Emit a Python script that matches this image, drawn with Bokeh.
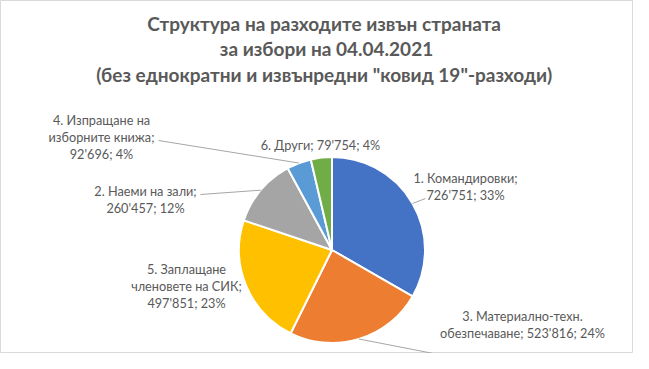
import math
from bokeh.plotting import figure
from bokeh.models import Range1d, ColumnDataSource
from bokeh.core.properties import value
from bokeh.embed import file_html
from bokeh.resources import INLINE

# ---- data ----
categories = ["1. Командировки", "3. Материално-техн. обезпечаване",
              "5. Заплащане членовете на СИК", "2. Наеми на зали",
              "4. Изпращане на изборните книжа", "6. Други"]
amounts = [726751, 523816, 497851, 260457, 92696, 79754]
percents = ["33%", "24%", "23%", "12%", "4%", "4%"]
colors = ["#4472C4", "#ED7D31", "#FFC000", "#A5A5A5", "#5B9BD5", "#70AD47"]
title_lines = ["Структура  на разходите извън страната",
               "за избори на 04.04.2021",
               "(без еднократни  и извънредни \"ковид 19\"-разходи)"]

def fmt(v):
    return f"{v:,}".replace(",", "'")

# label line layout (split of each label into lines)
label_lines = [
    [f"{categories[0]};", f"{fmt(amounts[0])}; {percents[0]}"],
    ["3. Материално-техн.", f"обезпечаване; {fmt(amounts[1])}; {percents[1]}"],
    ["5. Заплащане", "членовете на СИК;", f"{fmt(amounts[2])}; {percents[2]}"],
    [f"{categories[3]};", f"{fmt(amounts[3])}; {percents[3]}"],
    ["4. Изпращане на", "изборните книжа;", f"{fmt(amounts[4])}; {percents[4]}"],
    [f"{categories[5]}; {fmt(amounts[5])}; {percents[5]}"],
]
# (center x, first line y) in picture pixels
label_pos = [(465, 177), (522, 315), (186, 268), (145, 190), (101, 119), (320, 144)]
# leader-line anchor next to label (picture px), None = no leader
leader_anchor = [(425, 198), (433, 353), None, (200, 194), (158, 140), None]

W, H = 633, 353
def Y(y):  # picture y -> data y
    return 369 - y

p = figure(width=W, height=H, output_backend="svg", toolbar_location=None,
           x_range=Range1d(0, W), y_range=Range1d(369 - H, 369),
           x_axis_type=None, y_axis_type=None, min_border=0)
p.grid.visible = False
p.outline_line_color = "#D9D9D9"
p.outline_line_width = 1
p.background_fill_color = "white"
p.border_fill_color = "white"

# ---- pie ----
cx, cy, r = 331.5, 249.5, 93
total = sum(amounts)
starts, ends, mids = [], [], []
acc = 0.0
for a in amounts:
    f0 = acc / total
    acc += a
    f1 = acc / total
    starts.append(math.pi / 2 - f1 * 2 * math.pi)
    ends.append(math.pi / 2 - f0 * 2 * math.pi)
    mids.append((f0 + f1) / 2)

src = ColumnDataSource(dict(start=starts, end=ends, color=colors))
p.wedge(x=cx, y=Y(cy), radius=r, start_angle="start", end_angle="end",
        fill_color="color", line_color="white", line_width=2, source=src)

# ---- leader lines ----
for i, anc in enumerate(leader_anchor):
    if anc is None:
        continue
    th = mids[i] * 2 * math.pi
    px = cx + r * math.sin(th)
    py = cy - r * math.cos(th)
    p.line([px, anc[0]], [Y(py), Y(anc[1])], line_color="#A6A6A6", line_width=1)

# ---- labels ----
for i, lines in enumerate(label_lines):
    x0, y0 = label_pos[i]
    for j, t in enumerate(lines):
        p.text(x=[x0], y=[Y(y0 + j * 17)], text=[t], text_align="center",
               text_baseline="middle", text_font=value("Lato"),
               text_font_size="12.7px", text_color="#595959")

# ---- title ----
for j, t in enumerate(title_lines):
    p.text(x=[326], y=[Y(22.5 + j * 25.7)], text=[t], text_align="center",
           text_baseline="middle", text_font=value("Lato"),
           text_font_size="19px", text_font_style="bold", text_color="#595959")

open("out.html", "w").write(file_html(p, INLINE))
